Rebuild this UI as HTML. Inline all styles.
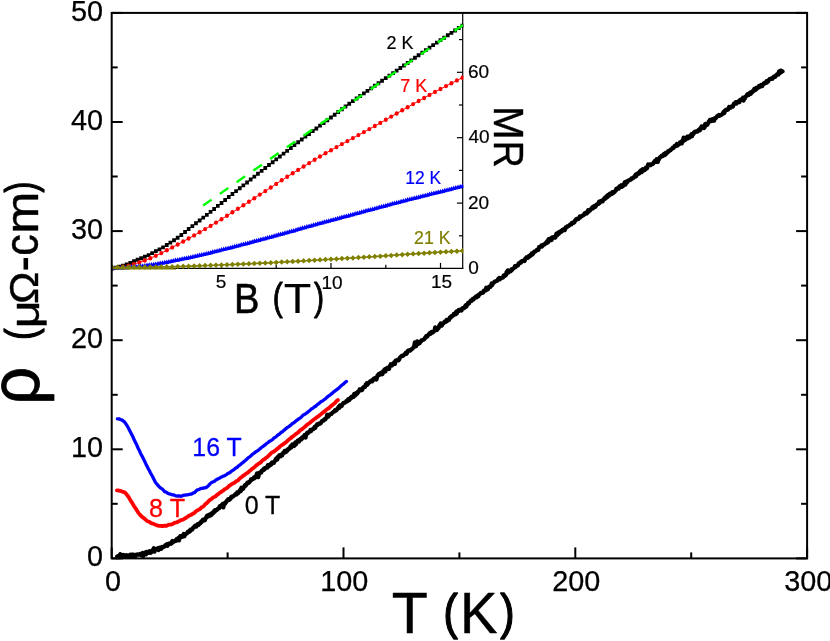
<!DOCTYPE html>
<html><head><meta charset="utf-8"><title>rho(T)</title>
<style>html,body{margin:0;padding:0;background:#fff;overflow:hidden}body{width:830px;height:641px;font-family:"Liberation Sans",sans-serif}svg{display:block;will-change:transform;transform:translateZ(0)}</style></head>
<body>
<svg width="830" height="641" viewBox="0 0 830 641">
<rect width="830" height="641" fill="#fff"/>
<g stroke="#000" stroke-width="1.2" fill="none">
<path d="M112 268.3H463.3"/>
<path d="M462.7 13V268.9"/>
<path d="M166.8 268.3v-3.5"/>
<path d="M221.5 268.3v-5.4"/>
<path d="M276.2 268.3v-3.5"/>
<path d="M331 268.3v-5.4"/>
<path d="M385.8 268.3v-3.5"/>
<path d="M440.5 268.3v-5.4"/>
<path d="M462.7 235.8h-3.7"/>
<path d="M462.7 203.1h-5.8"/>
<path d="M462.7 170.4h-3.7"/>
<path d="M462.7 137.7h-5.8"/>
<path d="M462.7 105h-3.7"/>
<path d="M462.7 72.3h-5.8"/>
<path d="M462.7 39.6h-3.7"/>
</g>
<clipPath id="ic"><rect x="111.6" y="12" width="351.8" height="260"/></clipPath>
<g clip-path="url(#ic)">
<g fill="none" stroke-linejoin="round">
<path d="M112 268.4L115.7 267.7L119.3 266.8L123 265.7L126.6 264.4L130.2 262.8L133.9 261.2L137.5 259.7L141.2 258.2L144.8 256.7L148.5 255.1L152.2 253.2L155.8 251.2L159.4 249.3L163.1 247.4L166.8 245.1L170.4 242.6L174 240.3L177.7 237.8L181.3 235L185 232L188.6 229L192.3 226.1L195.9 223.3L199.6 220.4L203.2 217.6L206.9 214.8L210.6 211.9L214.2 208.9L217.8 205.9L221.5 202.9L225.1 199.9L228.8 197L232.4 194L236.1 191.1L239.8 188.2L243.4 185.4L247 182.5L250.7 179.6L254.3 176.6L258 173.7L261.6 170.8L265.3 167.9L268.9 165.1L272.6 162.2L276.2 159.3L279.9 156.5L283.5 153.7L287.2 150.8L290.8 148L294.5 145.1L298.1 142.3L301.8 139.5L305.4 136.7L309.1 133.9L312.8 131.2L316.4 128.4L320 125.7L323.7 123L327.3 120.2L331 117.5L334.6 114.8L338.3 112L341.9 109.2L345.6 106.5L349.2 103.7L352.9 101.1L356.5 98.5L360.2 95.9L363.9 93.4L367.5 90.8L371.1 88.3L374.8 85.8L378.4 83.2L382.1 80.7L385.8 78.2L389.4 75.7L393 73.1L396.7 70.6L400.3 68.1L404 65.5L407.6 62.9L411.3 60.3L414.9 57.8L418.6 55.2L422.2 52.7L425.9 50.1L429.5 47.6L433.2 45.1L436.8 42.7L440.5 40.2L444.1 37.7L447.8 35.3L451.4 32.8L455.1 30.4L458.7 28L462.4 25.6" stroke="#000" stroke-width="1"/>
<path d="M112 268.4L117.5 267.6L123 266.7L128.4 265.6L133.9 264.1L139.4 262.4L144.8 260.5L150.3 258.2L155.8 255.8L161.3 253.1L166.8 250.3L172.2 247.4L177.7 244.5L183.2 241.5L188.6 238.5L194.1 235.4L199.6 232.3L205.1 229.1L210.6 225.9L216 222.6L221.5 219.2L227 215.8L232.4 212.3L237.9 208.8L243.4 205.3L248.9 201.8L254.3 198.2L259.8 194.6L265.3 191.1L270.8 187.5L276.2 183.9L281.7 180.3L287.2 176.8L292.7 173.3L298.1 169.9L303.6 166.5L309.1 163.1L314.6 159.8L320 156.5L325.5 153.3L331 150.2L336.5 147.1L341.9 144.1L347.4 141.1L352.9 138.1L358.4 135.1L363.9 132.1L369.3 129.1L374.8 126L380.3 122.9L385.8 119.8L391.2 116.6L396.7 113.5L402.2 110.3L407.6 107.2L413.1 104.1L418.6 101L424.1 98L429.5 94.9L435 91.9L440.5 89L446 86.1L451.4 83.2L456.9 80.4L462.4 77.7" stroke="#ff0000" stroke-width="1"/>
<path d="M112 268.4L114.2 268.3L116.4 268.2L118.6 268L120.8 267.9L123 267.7L125.1 267.6L127.3 267.4L129.5 267.2L131.7 267L133.9 266.8L136.1 266.6L138.3 266.4L140.5 266.1L142.7 265.9L144.8 265.6L147 265.3L149.2 265L151.4 264.8L153.6 264.4L155.8 264.1L158 263.7L160.2 263.3L162.4 262.9L164.6 262.5L166.8 262.1L168.9 261.7L171.1 261.2L173.3 260.8L175.5 260.3L177.7 259.9L179.9 259.5L182.1 259L184.3 258.5L186.5 258.1L188.6 257.6L190.8 257.1L193 256.7L195.2 256.2L197.4 255.7L199.6 255.2L201.8 254.7L204 254.1L206.2 253.6L208.4 253.1L210.6 252.6L212.7 252L214.9 251.5L217.1 250.9L219.3 250.4L221.5 249.8L223.7 249.3L225.9 248.7L228.1 248.2L230.3 247.6L232.4 247.1L234.6 246.5L236.8 245.9L239 245.4L241.2 244.8L243.4 244.2L245.6 243.7L247.8 243.1L250 242.5L252.2 241.9L254.3 241.3L256.5 240.7L258.7 240.1L260.9 239.5L263.1 238.9L265.3 238.4L267.5 237.8L269.7 237.2L271.9 236.6L274.1 236L276.2 235.4L278.4 234.8L280.6 234.2L282.8 233.6L285 233L287.2 232.4L289.4 231.8L291.6 231.2L293.8 230.6L296 229.9L298.1 229.3L300.3 228.7L302.5 228L304.7 227.4L306.9 226.8L309.1 226.2L311.3 225.6L313.5 225L315.7 224.4L317.9 223.8L320 223.2L322.2 222.6L324.4 222L326.6 221.4L328.8 220.9L331 220.3L333.2 219.7L335.4 219.1L337.6 218.5L339.8 217.9L341.9 217.3L344.1 216.7L346.3 216.1L348.5 215.6L350.7 215L352.9 214.4L355.1 213.8L357.3 213.2L359.5 212.6L361.7 212L363.9 211.4L366 210.8L368.2 210.2L370.4 209.7L372.6 209.1L374.8 208.5L377 207.9L379.2 207.3L381.4 206.7L383.6 206.1L385.8 205.6L387.9 205L390.1 204.4L392.3 203.8L394.5 203.3L396.7 202.7L398.9 202.1L401.1 201.5L403.3 201L405.5 200.4L407.6 199.8L409.8 199.3L412 198.7L414.2 198.2L416.4 197.6L418.6 197.1L420.8 196.5L423 196L425.2 195.4L427.4 194.9L429.5 194.3L431.7 193.8L433.9 193.2L436.1 192.7L438.3 192.2L440.5 191.6L442.7 191.1L444.9 190.5L447.1 190L449.3 189.4L451.4 188.9L453.6 188.3L455.8 187.8L458 187.2L460.2 186.7L462.4 186.2" stroke="#0000ff" stroke-width="1"/>
<path d="M112 267.1L117.5 267.1L123 267.1L128.4 267.1L133.9 267.1L139.4 267.1L144.8 267L150.3 267L155.8 267L161.3 266.9L166.8 266.8L172.2 266.7L177.7 266.5L183.2 266.4L188.6 266.2L194.1 266L199.6 265.8L205.1 265.6L210.6 265.4L216 265.1L221.5 264.9L227 264.7L232.4 264.5L237.9 264.2L243.4 264L248.9 263.8L254.3 263.5L259.8 263.2L265.3 263L270.8 262.7L276.2 262.4L281.7 262.1L287.2 261.8L292.7 261.5L298.1 261.2L303.6 260.9L309.1 260.5L314.6 260.2L320 259.9L325.5 259.6L331 259.2L336.5 258.9L341.9 258.6L347.4 258.3L352.9 257.9L358.4 257.6L363.9 257.2L369.3 256.9L374.8 256.5L380.3 256.2L385.8 255.8L391.2 255.4L396.7 255L402.2 254.6L407.6 254.3L413.1 253.9L418.6 253.5L424.1 253.2L429.5 252.8L435 252.5L440.5 252.1L446 251.8L451.4 251.5L456.9 251.2L462.4 250.8" stroke="#808000" stroke-width="1.4"/>
</g>
<path d="M110.2 266.4h3.7v3.9h-3.7zM113.8 265.7h3.7v3.9h-3.7zM117.5 264.8h3.7v3.9h-3.7zM121.1 263.8h3.7v3.9h-3.7zM124.8 262.4h3.7v3.9h-3.7zM128.4 260.9h3.7v3.9h-3.7zM132.1 259.3h3.7v3.9h-3.7zM135.7 257.8h3.7v3.9h-3.7zM139.3 256.3h3.7v3.9h-3.7zM143 254.8h3.7v3.9h-3.7zM146.7 253.2h3.7v3.9h-3.7zM150.3 251.2h3.7v3.9h-3.7zM154 249.2h3.7v3.9h-3.7zM157.6 247.4h3.7v3.9h-3.7zM161.2 245.4h3.7v3.9h-3.7zM164.9 243.1h3.7v3.9h-3.7zM168.5 240.7h3.7v3.9h-3.7zM172.2 238.3h3.7v3.9h-3.7zM175.8 235.8h3.7v3.9h-3.7zM179.5 233h3.7v3.9h-3.7zM183.2 230h3.7v3.9h-3.7zM186.8 227.1h3.7v3.9h-3.7zM190.5 224.2h3.7v3.9h-3.7zM194.1 221.3h3.7v3.9h-3.7zM197.8 218.5h3.7v3.9h-3.7zM201.4 215.7h3.7v3.9h-3.7zM205 212.9h3.7v3.9h-3.7zM208.7 209.9h3.7v3.9h-3.7zM212.3 207h3.7v3.9h-3.7zM216 203.9h3.7v3.9h-3.7zM219.7 201h3.7v3.9h-3.7zM223.3 198h3.7v3.9h-3.7zM226.9 195h3.7v3.9h-3.7zM230.6 192.1h3.7v3.9h-3.7zM234.2 189.2h3.7v3.9h-3.7zM237.9 186.3h3.7v3.9h-3.7zM241.5 183.4h3.7v3.9h-3.7zM245.2 180.5h3.7v3.9h-3.7zM248.8 177.6h3.7v3.9h-3.7zM252.5 174.7h3.7v3.9h-3.7zM256.1 171.8h3.7v3.9h-3.7zM259.8 168.9h3.7v3.9h-3.7zM263.4 166h3.7v3.9h-3.7zM267.1 163.1h3.7v3.9h-3.7zM270.8 160.3h3.7v3.9h-3.7zM274.4 157.4h3.7v3.9h-3.7zM278 154.6h3.7v3.9h-3.7zM281.7 151.7h3.7v3.9h-3.7zM285.3 148.9h3.7v3.9h-3.7zM289 146h3.7v3.9h-3.7zM292.6 143.2h3.7v3.9h-3.7zM296.3 140.3h3.7v3.9h-3.7zM299.9 137.5h3.7v3.9h-3.7zM303.6 134.7h3.7v3.9h-3.7zM307.2 132h3.7v3.9h-3.7zM310.9 129.2h3.7v3.9h-3.7zM314.5 126.5h3.7v3.9h-3.7zM318.2 123.7h3.7v3.9h-3.7zM321.8 121h3.7v3.9h-3.7zM325.5 118.3h3.7v3.9h-3.7zM329.1 115.6h3.7v3.9h-3.7zM332.8 112.8h3.7v3.9h-3.7zM336.4 110.1h3.7v3.9h-3.7zM340.1 107.3h3.7v3.9h-3.7zM343.7 104.5h3.7v3.9h-3.7zM347.4 101.8h3.7v3.9h-3.7zM351 99.2h3.7v3.9h-3.7zM354.7 96.5h3.7v3.9h-3.7zM358.3 94h3.7v3.9h-3.7zM362 91.4h3.7v3.9h-3.7zM365.6 88.9h3.7v3.9h-3.7zM369.3 86.4h3.7v3.9h-3.7zM372.9 83.8h3.7v3.9h-3.7zM376.6 81.3h3.7v3.9h-3.7zM380.2 78.8h3.7v3.9h-3.7zM383.9 76.2h3.7v3.9h-3.7zM387.5 73.7h3.7v3.9h-3.7zM391.2 71.2h3.7v3.9h-3.7zM394.8 68.7h3.7v3.9h-3.7zM398.5 66.1h3.7v3.9h-3.7zM402.1 63.6h3.7v3.9h-3.7zM405.8 61h3.7v3.9h-3.7zM409.4 58.4h3.7v3.9h-3.7zM413.1 55.8h3.7v3.9h-3.7zM416.7 53.3h3.7v3.9h-3.7zM420.4 50.7h3.7v3.9h-3.7zM424 48.2h3.7v3.9h-3.7zM427.7 45.7h3.7v3.9h-3.7zM431.3 43.2h3.7v3.9h-3.7zM435 40.7h3.7v3.9h-3.7zM438.6 38.2h3.7v3.9h-3.7zM442.3 35.8h3.7v3.9h-3.7zM445.9 33.3h3.7v3.9h-3.7zM449.6 30.9h3.7v3.9h-3.7zM453.2 28.5h3.7v3.9h-3.7zM456.9 26.1h3.7v3.9h-3.7zM460.5 23.7h3.7v3.9h-3.7z" fill="#000"/>
<g fill="#ff0000"><ellipse cx="112" cy="268.4" rx="2" ry="2.2"/><ellipse cx="117.5" cy="267.6" rx="2" ry="2.2"/><ellipse cx="123" cy="266.7" rx="2" ry="2.2"/><ellipse cx="128.4" cy="265.6" rx="2" ry="2.2"/><ellipse cx="133.9" cy="264.1" rx="2" ry="2.2"/><ellipse cx="139.4" cy="262.4" rx="2" ry="2.2"/><ellipse cx="144.8" cy="260.5" rx="2" ry="2.2"/><ellipse cx="150.3" cy="258.2" rx="2" ry="2.2"/><ellipse cx="155.8" cy="255.8" rx="2" ry="2.2"/><ellipse cx="161.3" cy="253.1" rx="2" ry="2.2"/><ellipse cx="166.8" cy="250.3" rx="2" ry="2.2"/><ellipse cx="172.2" cy="247.4" rx="2" ry="2.2"/><ellipse cx="177.7" cy="244.5" rx="2" ry="2.2"/><ellipse cx="183.2" cy="241.5" rx="2" ry="2.2"/><ellipse cx="188.6" cy="238.5" rx="2" ry="2.2"/><ellipse cx="194.1" cy="235.4" rx="2" ry="2.2"/><ellipse cx="199.6" cy="232.3" rx="2" ry="2.2"/><ellipse cx="205.1" cy="229.1" rx="2" ry="2.2"/><ellipse cx="210.6" cy="225.9" rx="2" ry="2.2"/><ellipse cx="216" cy="222.6" rx="2" ry="2.2"/><ellipse cx="221.5" cy="219.2" rx="2" ry="2.2"/><ellipse cx="227" cy="215.8" rx="2" ry="2.2"/><ellipse cx="232.4" cy="212.3" rx="2" ry="2.2"/><ellipse cx="237.9" cy="208.8" rx="2" ry="2.2"/><ellipse cx="243.4" cy="205.3" rx="2" ry="2.2"/><ellipse cx="248.9" cy="201.8" rx="2" ry="2.2"/><ellipse cx="254.3" cy="198.2" rx="2" ry="2.2"/><ellipse cx="259.8" cy="194.6" rx="2" ry="2.2"/><ellipse cx="265.3" cy="191.1" rx="2" ry="2.2"/><ellipse cx="270.8" cy="187.5" rx="2" ry="2.2"/><ellipse cx="276.2" cy="183.9" rx="2" ry="2.2"/><ellipse cx="281.7" cy="180.3" rx="2" ry="2.2"/><ellipse cx="287.2" cy="176.8" rx="2" ry="2.2"/><ellipse cx="292.7" cy="173.3" rx="2" ry="2.2"/><ellipse cx="298.1" cy="169.9" rx="2" ry="2.2"/><ellipse cx="303.6" cy="166.5" rx="2" ry="2.2"/><ellipse cx="309.1" cy="163.1" rx="2" ry="2.2"/><ellipse cx="314.6" cy="159.8" rx="2" ry="2.2"/><ellipse cx="320" cy="156.5" rx="2" ry="2.2"/><ellipse cx="325.5" cy="153.3" rx="2" ry="2.2"/><ellipse cx="331" cy="150.2" rx="2" ry="2.2"/><ellipse cx="336.5" cy="147.1" rx="2" ry="2.2"/><ellipse cx="341.9" cy="144.1" rx="2" ry="2.2"/><ellipse cx="347.4" cy="141.1" rx="2" ry="2.2"/><ellipse cx="352.9" cy="138.1" rx="2" ry="2.2"/><ellipse cx="358.4" cy="135.1" rx="2" ry="2.2"/><ellipse cx="363.9" cy="132.1" rx="2" ry="2.2"/><ellipse cx="369.3" cy="129.1" rx="2" ry="2.2"/><ellipse cx="374.8" cy="126" rx="2" ry="2.2"/><ellipse cx="380.3" cy="122.9" rx="2" ry="2.2"/><ellipse cx="385.8" cy="119.8" rx="2" ry="2.2"/><ellipse cx="391.2" cy="116.6" rx="2" ry="2.2"/><ellipse cx="396.7" cy="113.5" rx="2" ry="2.2"/><ellipse cx="402.2" cy="110.3" rx="2" ry="2.2"/><ellipse cx="407.6" cy="107.2" rx="2" ry="2.2"/><ellipse cx="413.1" cy="104.1" rx="2" ry="2.2"/><ellipse cx="418.6" cy="101" rx="2" ry="2.2"/><ellipse cx="424.1" cy="98" rx="2" ry="2.2"/><ellipse cx="429.5" cy="94.9" rx="2" ry="2.2"/><ellipse cx="435" cy="91.9" rx="2" ry="2.2"/><ellipse cx="440.5" cy="89" rx="2" ry="2.2"/><ellipse cx="446" cy="86.1" rx="2" ry="2.2"/><ellipse cx="451.4" cy="83.2" rx="2" ry="2.2"/><ellipse cx="456.9" cy="80.4" rx="2" ry="2.2"/><ellipse cx="462.4" cy="77.7" rx="2" ry="2.2"/></g>
<path d="M112 265.7L114.5 270.2L109.5 270.2zM114.2 265.6L116.7 270.1L111.7 270.1zM116.4 265.5L118.9 270L113.9 270zM118.6 265.3L121.1 269.8L116.1 269.8zM120.8 265.2L123.3 269.7L118.3 269.7zM123 265L125.5 269.5L120.5 269.5zM125.1 264.9L127.6 269.4L122.6 269.4zM127.3 264.7L129.8 269.2L124.8 269.2zM129.5 264.5L132 269L127 269zM131.7 264.3L134.2 268.8L129.2 268.8zM133.9 264.1L136.4 268.6L131.4 268.6zM136.1 263.9L138.6 268.4L133.6 268.4zM138.3 263.7L140.8 268.2L135.8 268.2zM140.5 263.4L143 267.9L138 267.9zM142.7 263.2L145.2 267.7L140.2 267.7zM144.8 262.9L147.3 267.4L142.3 267.4zM147 262.6L149.5 267.1L144.5 267.1zM149.2 262.3L151.7 266.8L146.7 266.8zM151.4 262.1L153.9 266.6L148.9 266.6zM153.6 261.7L156.1 266.2L151.1 266.2zM155.8 261.4L158.3 265.9L153.3 265.9zM158 261L160.5 265.5L155.5 265.5zM160.2 260.6L162.7 265.1L157.7 265.1zM162.4 260.2L164.9 264.7L159.9 264.7zM164.6 259.8L167.1 264.3L162.1 264.3zM166.8 259.4L169.2 263.9L164.2 263.9zM168.9 259L171.4 263.5L166.4 263.5zM171.1 258.5L173.6 263L168.6 263zM173.3 258.1L175.8 262.6L170.8 262.6zM175.5 257.6L178 262.1L173 262.1zM177.7 257.2L180.2 261.7L175.2 261.7zM179.9 256.8L182.4 261.3L177.4 261.3zM182.1 256.3L184.6 260.8L179.6 260.8zM184.3 255.8L186.8 260.3L181.8 260.3zM186.5 255.4L189 259.9L184 259.9zM188.6 254.9L191.1 259.4L186.1 259.4zM190.8 254.4L193.3 258.9L188.3 258.9zM193 254L195.5 258.5L190.5 258.5zM195.2 253.5L197.7 258L192.7 258zM197.4 253L199.9 257.5L194.9 257.5zM199.6 252.5L202.1 257L197.1 257zM201.8 252L204.3 256.5L199.3 256.5zM204 251.4L206.5 255.9L201.5 255.9zM206.2 250.9L208.7 255.4L203.7 255.4zM208.4 250.4L210.9 254.9L205.9 254.9zM210.6 249.9L213.1 254.4L208.1 254.4zM212.7 249.3L215.2 253.8L210.2 253.8zM214.9 248.8L217.4 253.3L212.4 253.3zM217.1 248.2L219.6 252.7L214.6 252.7zM219.3 247.7L221.8 252.2L216.8 252.2zM221.5 247.1L224 251.6L219 251.6zM223.7 246.6L226.2 251.1L221.2 251.1zM225.9 246L228.4 250.5L223.4 250.5zM228.1 245.5L230.6 250L225.6 250zM230.3 244.9L232.8 249.4L227.8 249.4zM232.4 244.4L234.9 248.9L229.9 248.9zM234.6 243.8L237.1 248.3L232.1 248.3zM236.8 243.2L239.3 247.7L234.3 247.7zM239 242.7L241.5 247.2L236.5 247.2zM241.2 242.1L243.7 246.6L238.7 246.6zM243.4 241.5L245.9 246L240.9 246zM245.6 241L248.1 245.5L243.1 245.5zM247.8 240.4L250.3 244.9L245.3 244.9zM250 239.8L252.5 244.3L247.5 244.3zM252.2 239.2L254.7 243.7L249.7 243.7zM254.3 238.6L256.9 243.1L251.8 243.1zM256.5 238L259 242.5L254 242.5zM258.7 237.4L261.2 241.9L256.2 241.9zM260.9 236.8L263.4 241.3L258.4 241.3zM263.1 236.2L265.6 240.7L260.6 240.7zM265.3 235.7L267.8 240.2L262.8 240.2zM267.5 235.1L270 239.6L265 239.6zM269.7 234.5L272.2 239L267.2 239zM271.9 233.9L274.4 238.4L269.4 238.4zM274.1 233.3L276.6 237.8L271.6 237.8zM276.2 232.7L278.8 237.2L273.8 237.2zM278.4 232.1L280.9 236.6L275.9 236.6zM280.6 231.5L283.1 236L278.1 236zM282.8 230.9L285.3 235.4L280.3 235.4zM285 230.3L287.5 234.8L282.5 234.8zM287.2 229.7L289.7 234.2L284.7 234.2zM289.4 229.1L291.9 233.6L286.9 233.6zM291.6 228.5L294.1 233L289.1 233zM293.8 227.9L296.3 232.4L291.3 232.4zM296 227.2L298.5 231.7L293.5 231.7zM298.1 226.6L300.6 231.1L295.6 231.1zM300.3 226L302.8 230.5L297.8 230.5zM302.5 225.3L305 229.8L300 229.8zM304.7 224.7L307.2 229.2L302.2 229.2zM306.9 224.1L309.4 228.6L304.4 228.6zM309.1 223.5L311.6 228L306.6 228zM311.3 222.9L313.8 227.4L308.8 227.4zM313.5 222.3L316 226.8L311 226.8zM315.7 221.7L318.2 226.2L313.2 226.2zM317.9 221.1L320.4 225.6L315.4 225.6zM320 220.5L322.5 225L317.5 225zM322.2 219.9L324.7 224.4L319.7 224.4zM324.4 219.3L326.9 223.8L321.9 223.8zM326.6 218.7L329.1 223.2L324.1 223.2zM328.8 218.2L331.3 222.7L326.3 222.7zM331 217.6L333.5 222.1L328.5 222.1zM333.2 217L335.7 221.5L330.7 221.5zM335.4 216.4L337.9 220.9L332.9 220.9zM337.6 215.8L340.1 220.3L335.1 220.3zM339.8 215.2L342.3 219.7L337.3 219.7zM341.9 214.6L344.4 219.1L339.4 219.1zM344.1 214L346.6 218.5L341.6 218.5zM346.3 213.4L348.8 217.9L343.8 217.9zM348.5 212.9L351 217.4L346 217.4zM350.7 212.3L353.2 216.8L348.2 216.8zM352.9 211.7L355.4 216.2L350.4 216.2zM355.1 211.1L357.6 215.6L352.6 215.6zM357.3 210.5L359.8 215L354.8 215zM359.5 209.9L362 214.4L357 214.4zM361.7 209.3L364.2 213.8L359.2 213.8zM363.9 208.7L366.4 213.2L361.4 213.2zM366 208.1L368.5 212.6L363.5 212.6zM368.2 207.5L370.7 212L365.7 212zM370.4 207L372.9 211.5L367.9 211.5zM372.6 206.4L375.1 210.9L370.1 210.9zM374.8 205.8L377.3 210.3L372.3 210.3zM377 205.2L379.5 209.7L374.5 209.7zM379.2 204.6L381.7 209.1L376.7 209.1zM381.4 204L383.9 208.5L378.9 208.5zM383.6 203.4L386.1 207.9L381.1 207.9zM385.8 202.9L388.2 207.4L383.2 207.4zM387.9 202.3L390.4 206.8L385.4 206.8zM390.1 201.7L392.6 206.2L387.6 206.2zM392.3 201.1L394.8 205.6L389.8 205.6zM394.5 200.6L397 205.1L392 205.1zM396.7 200L399.2 204.5L394.2 204.5zM398.9 199.4L401.4 203.9L396.4 203.9zM401.1 198.8L403.6 203.3L398.6 203.3zM403.3 198.3L405.8 202.8L400.8 202.8zM405.5 197.7L408 202.2L403 202.2zM407.6 197.1L410.1 201.6L405.1 201.6zM409.8 196.6L412.3 201.1L407.3 201.1zM412 196L414.5 200.5L409.5 200.5zM414.2 195.5L416.7 200L411.7 200zM416.4 194.9L418.9 199.4L413.9 199.4zM418.6 194.4L421.1 198.9L416.1 198.9zM420.8 193.8L423.3 198.3L418.3 198.3zM423 193.3L425.5 197.8L420.5 197.8zM425.2 192.7L427.7 197.2L422.7 197.2zM427.4 192.2L429.9 196.7L424.9 196.7zM429.5 191.6L432 196.1L427 196.1zM431.7 191.1L434.2 195.6L429.2 195.6zM433.9 190.5L436.4 195L431.4 195zM436.1 190L438.6 194.5L433.6 194.5zM438.3 189.5L440.8 194L435.8 194zM440.5 188.9L443 193.4L438 193.4zM442.7 188.4L445.2 192.9L440.2 192.9zM444.9 187.8L447.4 192.3L442.4 192.3zM447.1 187.3L449.6 191.8L444.6 191.8zM449.3 186.7L451.8 191.2L446.8 191.2zM451.4 186.2L453.9 190.7L448.9 190.7zM453.6 185.6L456.1 190.1L451.1 190.1zM455.8 185.1L458.3 189.6L453.3 189.6zM458 184.5L460.5 189L455.5 189zM460.2 184L462.7 188.5L457.7 188.5zM462.4 183.5L464.9 188L459.9 188z" fill="#0000ff"/>
<path d="M112.6 266.9H150L176 268.6V269.5H112.6z" fill="#808000"/>
<path d="M112 264.4L114.8 267.1L112 269.9L109.2 267.1zM117.5 264.4L120.3 267.1L117.5 269.9L114.7 267.1zM123 264.4L125.8 267.1L123 269.9L120.2 267.1zM128.4 264.3L131.2 267.1L128.4 269.8L125.6 267.1zM133.9 264.3L136.7 267.1L133.9 269.8L131.1 267.1zM139.4 264.3L142.2 267.1L139.4 269.8L136.6 267.1zM144.8 264.3L147.7 267L144.8 269.8L142 267zM150.3 264.3L153.1 267L150.3 269.8L147.5 267zM155.8 264.2L158.6 267L155.8 269.7L153 267zM161.3 264.1L164.1 266.9L161.3 269.6L158.5 266.9zM166.8 264L169.6 266.8L166.8 269.5L163.9 266.8zM172.2 263.9L175 266.7L172.2 269.4L169.4 266.7zM177.7 263.8L180.5 266.5L177.7 269.3L174.9 266.5zM183.2 263.6L186 266.4L183.2 269.1L180.4 266.4zM188.6 263.5L191.4 266.2L188.6 269L185.8 266.2zM194.1 263.3L196.9 266L194.1 268.8L191.3 266zM199.6 263.1L202.4 265.8L199.6 268.6L196.8 265.8zM205.1 262.8L207.9 265.6L205.1 268.3L202.3 265.6zM210.6 262.6L213.4 265.4L210.6 268.1L207.8 265.4zM216 262.4L218.8 265.1L216 267.9L213.2 265.1zM221.5 262.2L224.3 264.9L221.5 267.7L218.7 264.9zM227 261.9L229.8 264.7L227 267.4L224.2 264.7zM232.4 261.7L235.2 264.5L232.4 267.2L229.6 264.5zM237.9 261.5L240.7 264.2L237.9 267L235.1 264.2zM243.4 261.2L246.2 264L243.4 266.7L240.6 264zM248.9 261L251.7 263.8L248.9 266.5L246.1 263.8zM254.3 260.8L257.1 263.5L254.3 266.3L251.5 263.5zM259.8 260.5L262.6 263.2L259.8 266L257 263.2zM265.3 260.2L268.1 263L265.3 265.7L262.5 263zM270.8 259.9L273.6 262.7L270.8 265.4L268 262.7zM276.2 259.7L279.1 262.4L276.2 265.2L273.4 262.4zM281.7 259.3L284.5 262.1L281.7 264.8L278.9 262.1zM287.2 259L290 261.8L287.2 264.5L284.4 261.8zM292.7 258.7L295.5 261.5L292.7 264.2L289.9 261.5zM298.1 258.4L300.9 261.2L298.1 263.9L295.3 261.2zM303.6 258.1L306.4 260.9L303.6 263.6L300.8 260.9zM309.1 257.8L311.9 260.5L309.1 263.3L306.3 260.5zM314.6 257.5L317.4 260.2L314.6 263L311.8 260.2zM320 257.1L322.8 259.9L320 262.6L317.2 259.9zM325.5 256.8L328.3 259.6L325.5 262.3L322.7 259.6zM331 256.5L333.8 259.2L331 262L328.2 259.2zM336.5 256.2L339.3 258.9L336.5 261.7L333.7 258.9zM341.9 255.8L344.8 258.6L341.9 261.3L339.1 258.6zM347.4 255.5L350.2 258.3L347.4 261L344.6 258.3zM352.9 255.2L355.7 257.9L352.9 260.7L350.1 257.9zM358.4 254.8L361.2 257.6L358.4 260.3L355.6 257.6zM363.9 254.5L366.7 257.2L363.9 260L361.1 257.2zM369.3 254.1L372.1 256.9L369.3 259.6L366.5 256.9zM374.8 253.8L377.6 256.5L374.8 259.3L372 256.5zM380.3 253.4L383.1 256.2L380.3 258.9L377.5 256.2zM385.8 253L388.6 255.8L385.8 258.5L382.9 255.8zM391.2 252.7L394 255.4L391.2 258.2L388.4 255.4zM396.7 252.3L399.5 255L396.7 257.8L393.9 255zM402.2 251.9L405 254.6L402.2 257.4L399.4 254.6zM407.6 251.5L410.4 254.3L407.6 257L404.8 254.3zM413.1 251.1L415.9 253.9L413.1 256.6L410.3 253.9zM418.6 250.8L421.4 253.5L418.6 256.3L415.8 253.5zM424.1 250.4L426.9 253.2L424.1 255.9L421.3 253.2zM429.5 250.1L432.3 252.8L429.5 255.6L426.7 252.8zM435 249.7L437.8 252.5L435 255.2L432.2 252.5zM440.5 249.4L443.3 252.1L440.5 254.9L437.7 252.1zM446 249.1L448.8 251.8L446 254.6L443.2 251.8zM451.4 248.7L454.2 251.5L451.4 254.2L448.6 251.5zM456.9 248.4L459.7 251.2L456.9 253.9L454.1 251.2zM462.4 248.1L465.2 250.8L462.4 253.6L459.6 250.8z" fill="#808000"/>
<path d="M203.1 205.5L463.9 24.4" stroke="#00ff00" stroke-width="2.4" stroke-dasharray="10.3 10.1" fill="none"/>
</g>
<clipPath id="fc"><rect x="111.7" y="12.9" width="695.4" height="546.3"/></clipPath>
<g fill="none" stroke-linejoin="round" stroke-linecap="round" clip-path="url(#fc)">
<path d="M117.4 418.8L118.4 418.9L119.4 419L120.4 419.5L121.4 419.8L122.4 420.3L123.4 421.2L124.4 421.9L125.4 423.1L126.4 424.7L127.4 426.2L128.4 428L129.4 430.1L130.4 432L131.4 433.9L132.4 435.8L133.4 438L134.4 440.3L135.4 442.3L136.4 444.2L137.4 446.5L138.4 448.8L139.4 450.7L140.4 453L141.4 455.1L142.4 456.7L143.4 458.7L144.4 460.7L145.4 462.9L146.4 465.2L147.4 466.9L148.4 469L149.4 470.8L150.4 472.7L151.4 474.5L152.4 476.3L153.4 478.3L154.4 480.3L155.4 482.3L156.4 483.5L157.4 484.7L158.4 485.8L159.4 486.9L160.4 487.8L161.4 488.5L162.4 489.2L163.4 490.2L164.4 491.4L165.4 492L166.4 492.2L167.4 493L168.4 493.6L169.4 493.8L170.4 494.2L171.4 494.5L172.4 494.8L173.4 494.9L174.4 495.3L175.4 495.7L176.4 496L177.4 496.2L178.4 495.9L179.4 495.9L180.4 496.3L181.4 496.2L182.4 495.7L183.4 495.4L184.4 495.2L185.4 495.1L186.4 494.8L187.4 494.8L188.4 494.7L189.4 494.3L190.4 494.2L191.4 494.1L192.4 493.5L193.4 492.9L194.4 492.6L195.4 491.8L196.4 490.6L197.4 489.9L198.4 489.6L199.4 489.2L200.4 488.7L201.4 488.4L202.4 488.3L203.4 488L204.4 487.9L205.4 487.8L206.4 487.3L207.4 486.6L208.4 485.7L209.4 484.4L210.4 483.5L211.4 482.7L212.4 482L213.4 481.8L214.4 481.3L215.4 480.4L216.4 479.7L217.4 479.1L218.4 478.7L219.4 478.3L220.4 477.5L221.4 477L222.4 476.6L223.4 476.1L224.4 475.7L225.4 475.2L226.4 474.6L227.4 473.8L228.4 473.3L229.4 472.9L230.4 472.2L231.4 471.3L232.4 470.5L233.4 470L234.4 469.2L235.4 468.3L236.4 467.8L237.4 467.1L238.4 465.9L239.4 465.3L240.4 464.6L241.4 463.6L242.4 462.9L243.4 462.1L244.4 461.2L245.4 460.5L246.4 459.6L247.4 458.6L248.4 457.7L249.4 457L250.4 456.2L251.4 455.4L252.4 454.4L253.4 453.7L254.4 453L255.4 452L256.4 451.5L257.4 450.8L258.4 450.1L259.4 449.3L260.4 448.4L261.4 447.5L262.4 446.8L263.4 446.2L264.4 445.4L265.4 444.6L266.4 443.7L267.4 443L268.4 442.2L269.4 441.4L270.4 441L271.4 440.3L272.4 439.7L273.4 438.6L274.4 437.7L275.4 437.2L276.4 436.5L277.4 435.4L278.4 434.6L279.4 434.2L280.4 433.1L281.4 432.2L282.4 431.7L283.4 430.8L284.4 429.9L285.4 429.1L286.4 428.2L287.4 427.4L288.4 426.8L289.4 426.1L290.4 425.4L291.4 424.5L292.4 423.6L293.4 423.1L294.4 422.4L295.4 421.4L296.4 420.6L297.4 419.9L298.4 419.1L299.4 418.5L300.4 417.8L301.4 417L302.4 415.9L303.4 414.9L304.4 414.5L305.4 413.9L306.4 413.2L307.4 412.5L308.4 411.5L309.4 410.8L310.4 410L311.4 408.9L312.4 408.5L313.4 407.7L314.4 406.8L315.4 406.4L316.4 405.6L317.4 404.5L318.4 403.9L319.4 403.1L320.4 402.1L321.4 401.5L322.4 401L323.4 400.3L324.4 399.5L325.4 398.7L326.4 397.8L327.4 396.9L328.4 396.1L329.4 395.5L330.4 394.7L331.4 393.9L332.4 393.1L333.4 392.1L334.4 391.4L335.4 390.6L336.4 389.9L337.4 389.1L338.4 388.4L339.4 387.5L340.4 386.4L341.4 385.5L342.4 384.7L343.4 384.1L344.4 383.1L345.4 382.2L346.4 381.5" stroke="#0000ff" stroke-width="3.3"/>
<path d="M116.9 490.3L117.9 490.3L118.9 490.6L119.9 490.9L120.9 491L121.9 491.4L122.9 491.9L123.9 492.1L124.9 492.5L125.9 493.6L126.9 494.9L127.9 496L128.9 497.6L129.9 499.3L130.9 500.9L131.9 502.5L132.9 504.2L133.9 506L134.9 507.4L135.9 508.8L136.9 510.4L137.9 512L138.9 513.4L139.9 514.6L140.9 515.7L141.9 516.7L142.9 517.5L143.9 518.1L144.9 519L145.9 519.9L146.9 520.8L147.9 521.4L148.9 521.6L149.9 522.1L150.9 523L151.9 523.4L152.9 523.6L153.9 524.1L154.9 524.5L155.9 524.9L156.9 525.3L157.9 525.7L158.9 525.9L159.9 525.8L160.9 525.8L161.9 526.1L162.9 526L163.9 525.9L164.9 525.7L165.9 525.8L166.9 525.8L167.9 525.1L168.9 524.7L169.9 524.6L170.9 524.6L171.9 524.3L172.9 523.8L173.9 523.3L174.9 522.7L175.9 522.5L176.9 522.3L177.9 521.7L178.9 521.3L179.9 520.8L180.9 520.1L181.9 519.9L182.9 519.7L183.9 519L184.9 518.5L185.9 517.9L186.9 517.1L187.9 516.6L188.9 515.8L189.9 515.3L190.9 515L191.9 514.4L192.9 513.6L193.9 513.2L194.9 512.4L195.9 511.3L196.9 510.7L197.9 510.1L198.9 509.6L199.9 509.1L200.9 508L201.9 507.1L202.9 506.8L203.9 505.9L204.9 504.5L205.9 503.7L206.9 502.9L207.9 502L208.9 500.9L209.9 499.9L210.9 499.3L211.9 498.7L212.9 497.7L213.9 497.1L214.9 496.7L215.9 495.9L216.9 495L217.9 494.4L218.9 493.6L219.9 492.7L220.9 492.1L221.9 491.4L222.9 490.7L223.9 489.9L224.9 489.1L225.9 488.6L226.9 488.1L227.9 487.2L228.9 486.1L229.9 485.4L230.9 484.7L231.9 484L232.9 483.5L233.9 483L234.9 482.4L235.9 481.5L236.9 480.9L237.9 480.5L238.9 479.4L239.9 478.2L240.9 477.4L241.9 477L242.9 475.9L243.9 475.2L244.9 474.7L245.9 473.8L246.9 473.1L247.9 472.6L248.9 471.6L249.9 470.7L250.9 469.9L251.9 469L252.9 468.3L253.9 467.7L254.9 466.8L255.9 465.6L256.9 465L257.9 464.3L258.9 463.4L259.9 463L260.9 462.2L261.9 461L262.9 460L263.9 459.5L264.9 458.9L265.9 458L266.9 457.3L267.9 456.4L268.9 455.4L269.9 454.5L270.9 453.4L271.9 452.5L272.9 452.1L273.9 451.5L274.9 450.7L275.9 449.9L276.9 449.1L277.9 448.4L278.9 447.5L279.9 446.6L280.9 445.7L281.9 445L282.9 444.5L283.9 443.6L284.9 443L285.9 442.3L286.9 441.3L287.9 440.5L288.9 439.5L289.9 438.7L290.9 438.1L291.9 437L292.9 436.4L293.9 435.7L294.9 434.8L295.9 434L296.9 433.3L297.9 432.7L298.9 431.7L299.9 430.5L300.9 429.8L301.9 429.3L302.9 428.5L303.9 427.5L304.9 426.8L305.9 425.8L306.9 424.8L307.9 424.2L308.9 423.5L309.9 422.8L310.9 421.8L311.9 421.1L312.9 420.3L313.9 419.5L314.9 418.8L315.9 418L316.9 417.2L317.9 416.6L318.9 415.9L319.9 415L320.9 414.3L321.9 413.4L322.9 412.6L323.9 411.9L324.9 411.1L325.9 410.2L326.9 409.3L327.9 408.7L328.9 408.2L329.9 407.2L330.9 406.1L331.9 405.4L332.9 404.6L333.9 403.8L334.9 403L335.9 401.8L336.9 400.7L337.9 400.1" stroke="#ff0000" stroke-width="3.8"/>
<path d="M117.2 556.4L117.8 557.9L118.4 555.8L119 556.6L119.6 557.4L120.2 554L120.8 555.7L121.4 556.1L122 555.9L122.6 555.6L123.2 554.9L123.8 555.2L124.4 556.3L125 556.5L125.6 555.8L126.2 555.2L126.8 555.8L127.4 555.5L128 556.1L128.6 555.8L129.2 555.2L129.8 555.7L130.4 554.7L131 556.1L131.6 556.3L132.2 554.6L132.8 555.7L133.4 554.6L134 556L134.6 555.8L135.2 555L135.8 555.8L136.4 554.7L137 554.5L137.6 554.4L138.2 554.7L138.8 554.5L139.4 554.7L140 554.1L140.6 554.9L141.2 555L141.8 553.8L142.4 553.1L143 556.3L143.6 554.6L144.2 553.6L144.8 552.6L145.4 553.6L146 554.3L146.6 551.8L147.2 553.2L147.8 552.5L148.4 552L149 552.7L149.6 551.3L150.2 552.2L150.8 552.8L151.4 551.8L152 550.8L152.6 550L153.2 550.1L153.8 548.2L154.4 551.7L155 550.1L155.6 549.3L156.2 548.9L156.8 548.8L157.4 549.1L158 548.1L158.6 550L159.2 548L159.8 547.7L160.4 548.2L161 548.8L161.6 548.5L162.2 546.9L162.8 547.2L163.4 546.9L164 546.9L164.6 546.4L165.2 545.3L165.8 544.8L166.4 545.6L167 544.3L167.6 545.8L168.2 544.6L168.8 543.6L169.4 543.8L170 543.3L170.6 543.3L171.2 543.7L171.8 541.7L172.4 541.1L173 542.3L173.6 541.6L174.2 541.4L174.8 541.3L175.4 540.5L176 540.8L176.6 539.2L177.2 539.5L177.8 538.5L178.4 537.9L179 540.4L179.6 538.3L180.2 536.1L180.8 536.3L181.4 536.9L182 537L182.6 535.4L183.2 535.3L183.8 534L184.4 536.3L185 534.4L185.6 534.3L186.2 533.7L186.8 533.4L187.4 532.8L188 531.6L188.6 532L189.2 531L189.8 531.5L190.4 529.6L191 529.3L191.6 529.7L192.2 529.7L192.8 528.4L193.4 527.4L194 527.3L194.6 526.6L195.2 525.6L195.8 526.7L196.4 526.5L197 525.3L197.6 524.3L198.2 525L198.8 524.9L199.4 523.7L200 522.8L200.6 523.1L201.2 521.6L201.8 521.9L202.4 520.4L203 519.7L203.6 520.3L204.2 519.7L204.8 520.3L205.4 518.3L206 518L206.6 516.7L207.2 515.7L207.8 516.7L208.4 516.4L209 514.8L209.6 515.9L210.2 515.6L210.8 514L211.4 514.9L212 513.4L212.6 513.6L213.2 512.1L213.8 512.5L214.4 510.7L215 511.4L215.6 510.1L216.2 509.9L216.8 510L217.4 509.2L218 508.5L218.6 508.6L219.2 508.2L219.8 506.2L220.4 507.1L221 506.7L221.6 505.2L222.2 505.5L222.8 503.8L223.4 507.4L224 503.5L224.6 503.2L225.2 503.5L225.8 502.1L226.4 502.1L227 500.5L227.6 500.3L228.2 499.2L228.8 499.5L229.4 499.9L230 498.9L230.6 498.8L231.2 497L231.8 496.6L232.4 496.4L233 496.7L233.6 496L234.2 495.3L234.8 495.2L235.4 494.2L236 493.8L236.6 494.3L237.2 492.4L237.8 492.5L238.4 493L239 491.4L239.6 491.3L240.2 489.9L240.8 491.2L241.4 487.7L242 487.9L242.6 487.4L243.2 488.8L243.8 487.3L244.4 486.3L245 485.1L245.6 485.7L246.2 484.9L246.8 483.8L247.4 482.7L248 482.4L248.6 482.8L249.2 482.3L249.8 481.6L250.4 480.9L251 479.3L251.6 480L252.2 478.8L252.8 479L253.4 478.8L254 477.5L254.6 478.2L255.2 477.6L255.8 476.7L256.4 475.5L257 473.3L257.6 474.9L258.2 477.2L258.8 474.7L259.4 472.9L260 472.4L260.6 472.1L261.2 472.5L261.8 470.6L262.4 470.8L263 469.7L263.6 470.1L264.2 468.3L264.8 469.1L265.4 468L266 467.7L266.6 467.7L267.2 467.7L267.8 465.2L268.4 466.6L269 465.7L269.6 464.7L270.2 465.3L270.8 464L271.4 464.3L272 462.4L272.6 463L273.2 462.7L273.8 462.9L274.4 461.3L275 461L275.6 459.5L276.2 458.4L276.8 458.7L277.4 459.4L278 456.6L278.6 457L279.2 455.5L279.8 456.4L280.4 456.5L281 454.5L281.6 454.6L282.2 455.3L282.8 453.8L283.4 452.5L284 452L284.6 451L285.2 452.4L285.8 450.9L286.4 451.6L287 451L287.6 449.4L288.2 449L288.8 449.4L289.4 448.5L290 448.1L290.6 446.2L291.2 447.5L291.8 445.8L292.4 444.3L293 445L293.6 445.2L294.2 445.9L294.8 443.6L295.4 442.5L296 444.4L296.6 442.5L297.2 441.7L297.8 440.7L298.4 440.2L299 441.5L299.6 439.7L300.2 439.1L300.8 438.6L301.4 439.5L302 437.5L302.6 437.9L303.2 437.1L303.8 436.6L304.4 435.3L305 435.9L305.6 437.5L306.2 434.4L306.8 433.3L307.4 432.6L308 433.1L308.6 432.3L309.2 431.9L309.8 431.5L310.4 430L311 431.1L311.6 430.2L312.2 429.5L312.8 429.2L313.4 429.2L314 428.1L314.6 426.9L315.2 427.9L315.8 426.3L316.4 425.6L317 424.5L317.6 425.1L318.2 423.8L318.8 423.7L319.4 423.9L320 423.1L320.6 423.3L321.2 422.3L321.8 421.3L322.4 420.9L323 420.3L323.6 420.6L324.2 419.7L324.8 418.9L325.4 419.3L326 418.2L326.6 417.4L327.2 414.7L327.8 417L328.4 416.4L329 415.7L329.6 414.9L330.2 414.1L330.8 414.1L331.4 413.9L332 413.2L332.6 412.7L333.2 411.9L333.8 412L334.4 411.5L335 410.3L335.6 410.8L336.2 410.4L336.8 409.9L337.4 408.7L338 408.2L338.6 407L339.2 407.9L339.8 405.4L340.4 406.1L341 405.6L341.6 406L342.2 404.9L342.8 403.7L343.4 402.9L344 402.9L344.6 403L345.2 402.5L345.8 401.8L346.4 401L347 400.8L347.6 401.2L348.2 399.2L348.8 399.5L349.4 400.1L350 398.9L350.6 397.7L351.2 398L351.8 396.5L352.4 396.5L353 397.1L353.6 396.9L354.2 393.8L354.8 395L355.4 395.4L356 393.2L356.6 393.3L357.2 393.6L357.8 391.8L358.4 391.9L359 391.1L359.6 389.3L360.2 390.4L360.8 389.5L361.4 389.8L362 390.1L362.6 388.7L363.2 387.4L363.8 387.5L364.4 386.9L365 387L365.6 384.7L366.2 384.4L366.8 383.3L367.4 384.7L368 383.8L368.6 382.9L369.2 382.3L369.8 381.9L370.4 381.2L371 381.2L371.6 380.5L372.2 381.4L372.8 380.2L373.4 378.9L374 378.5L374.6 379.3L375.2 378.3L375.8 377.7L376.4 379.5L377 377.6L377.6 375.2L378.2 375L378.8 373.9L379.4 374.9L380 373.8L380.6 373.1L381.2 372.6L381.8 373.1L382.4 374.2L383 371.3L383.6 372.1L384.2 370L384.8 369.3L385.4 371.5L386 369L386.6 368.4L387.2 367.8L387.8 367.7L388.4 367.8L389 368.9L389.6 366.7L390.2 365.6L390.8 364.3L391.4 365.1L392 365.4L392.6 364.6L393.2 363.3L393.8 363.5L394.4 362.2L395 363.9L395.6 360.6L396.2 360.8L396.8 360.6L397.4 359.9L398 360.1L398.6 360.3L399.2 359.5L399.8 357.8L400.4 357.1L401 356.6L401.6 355.9L402.2 356.1L402.8 355.9L403.4 355.3L404 354.8L404.6 354.3L405.2 353.6L405.8 352.7L406.4 353.9L407 353L407.6 351.1L408.2 350.6L408.8 350.4L409.4 350.3L410 350.7L410.6 350.1L411.2 349.6L411.8 349.1L412.4 348.7L413 347.9L413.6 347.3L414.2 346.4L414.8 342.3L415.4 345.4L416 346.3L416.6 344.1L417.2 341.3L417.8 344.3L418.4 343.1L419 342.3L419.6 343.2L420.2 342.1L420.8 341.7L421.4 340.3L422 340.5L422.6 340L423.2 339.8L423.8 339.6L424.4 339.1L425 337.9L425.6 337.8L426.2 336.1L426.8 336.8L427.4 336.4L428 335.2L428.6 334.4L429.2 334.4L429.8 333.1L430.4 333.8L431 333.3L431.6 331.9L432.2 332.1L432.8 332.4L433.4 331.9L434 331.4L434.6 330.1L435.2 327.3L435.8 329L436.4 329.2L437 329.9L437.6 328.8L438.2 328.4L438.8 327.8L439.4 325.2L440 325.8L440.6 323.4L441.2 325.8L441.8 325.7L442.4 323.5L443 323.5L443.6 323.4L444.2 322.2L444.8 321.6L445.4 321.1L446 321.7L446.6 320L447.2 321L447.8 319.8L448.4 319.7L449 319.8L449.6 317.8L450.2 317.2L450.8 317.6L451.4 316.1L452 315.8L452.6 315.8L453.2 315.5L453.8 314L454.4 314.2L455 314.4L455.6 314.4L456.2 311.6L456.8 313.4L457.4 311.1L458 310.8L458.6 310.1L459.2 310.9L459.8 309.9L460.4 309.8L461 309.8L461.6 310.5L462.2 308.4L462.8 308.1L463.4 307.9L464 308.1L464.6 307.6L465.2 306.1L465.8 305.3L466.4 306.6L467 304.9L467.6 304.3L468.2 302.8L468.8 303.6L469.4 302.1L470 301.8L470.6 300.7L471.2 300.8L471.8 300.8L472.4 299.2L473 299.2L473.6 299.3L474.2 298L474.8 297.5L475.4 297.3L476 296.5L476.6 297.4L477.2 295.8L477.8 296.6L478.4 296.2L479 294.3L479.6 294.6L480.2 293.8L480.8 292.9L481.4 293L482 292.6L482.6 292.8L483.2 292.5L483.8 290.5L484.4 290.6L485 290.7L485.6 290.7L486.2 287.7L486.8 289.8L487.4 288.4L488 289.1L488.6 287.2L489.2 286.5L489.8 286.6L490.4 286.9L491 285.7L491.6 283.5L492.2 285.2L492.8 283.1L493.4 283.1L494 282.5L494.6 281.5L495.2 281.5L495.8 281.2L496.4 281L497 280.9L497.6 280.2L498.2 279L498.8 279.4L499.4 277.9L500 279.3L500.6 278.2L501.2 278.1L501.8 277.8L502.4 277.7L503 277.5L503.6 275.6L504.2 275.1L504.8 275.9L505.4 275.5L506 275L506.6 271.8L507.2 272.8L507.8 270.3L508.4 272.6L509 271.6L509.6 271.2L510.2 270.6L510.8 271.1L511.4 269.5L512 270L512.6 269.2L513.2 268.6L513.8 268.2L514.4 267.5L515 266.2L515.6 267L516.2 266.5L516.8 265.5L517.4 265.6L518 265.3L518.6 263.3L519.2 263.6L519.8 262.9L520.4 262.2L521 262.6L521.6 261.3L522.2 261.1L522.8 261.1L523.4 260.7L524 260.2L524.6 261.1L525.2 258.7L525.8 258.8L526.4 257.3L527 258L527.6 258L528.2 257.6L528.8 255.9L529.4 255.7L530 256.3L530.6 254.9L531.2 255.1L531.8 253.3L532.4 254.5L533 253.8L533.6 252.9L534.2 251.6L534.8 251.6L535.4 251.3L536 251L536.6 250.2L537.2 249.7L537.8 249.5L538.4 249.9L539 247.1L539.6 247L540.2 246.5L540.8 246.6L541.4 245.4L542 246.6L542.6 245.8L543.2 245.1L543.8 244.3L544.4 244.4L545 244L545.6 243.6L546.2 242.4L546.8 242.9L547.4 241L548 242.4L548.6 239L549.2 240.2L549.8 239.3L550.4 240.3L551 238.2L551.6 240.1L552.2 237.3L552.8 238L553.4 237.8L554 237L554.6 236.8L555.2 237.6L555.8 236.2L556.4 233.6L557 235.5L557.6 234.4L558.2 232.6L558.8 233.8L559.4 232L560 232.5L560.6 232.1L561.2 231L561.8 231.5L562.4 229.9L563 230.2L563.6 229.3L564.2 229.1L564.8 230.1L565.4 228.4L566 227.1L566.6 227.3L567.2 226.4L567.8 226.5L568.4 226.1L569 225.6L569.6 225.2L570.2 224.3L570.8 224.5L571.4 224.5L572 222.8L572.6 222.8L573.2 222.4L573.8 222.8L574.4 222.2L575 220.5L575.6 220.6L576.2 219L576.8 218.9L577.4 219.2L578 219.2L578.6 218.9L579.2 217.6L579.8 216.4L580.4 217.2L581 216.3L581.6 216.3L582.2 215.6L582.8 215.6L583.4 215.1L584 214.8L584.6 213.4L585.2 214L585.8 212.5L586.4 212.4L587 213.2L587.6 211.7L588.2 210.2L588.8 211.6L589.4 210.8L590 210.4L590.6 209.3L591.2 209L591.8 208.1L592.4 207.3L593 208.4L593.6 206.7L594.2 206.1L594.8 205.7L595.4 206.9L596 205.7L596.6 204.4L597.2 204.2L597.8 204.1L598.4 203.9L599 201.7L599.6 203L600.2 201.8L600.8 201L601.4 200.8L602 201.2L602.6 201.4L603.2 199.8L603.8 199.6L604.4 198.2L605 198.7L605.6 198.5L606.2 196.4L606.8 196.7L607.4 197.1L608 194.9L608.6 195.4L609.2 195.6L609.8 193.6L610.4 194.1L611 193.9L611.6 194.1L612.2 192.1L612.8 193.3L613.4 192.3L614 192.5L614.6 192L615.2 191L615.8 190.7L616.4 188.7L617 188.5L617.6 188.3L618.2 188.3L618.8 188.7L619.4 186.4L620 187L620.6 185.8L621.2 185.2L621.8 186.9L622.4 185.5L623 186.1L623.6 185.4L624.2 183.4L624.8 182.3L625.4 184.6L626 182.5L626.6 181.5L627.2 182.3L627.8 181.5L628.4 180.5L629 180.3L629.6 180.2L630.2 179.7L630.8 179.7L631.4 178.5L632 178.1L632.6 178.3L633.2 177.6L633.8 177.7L634.4 176.4L635 176L635.6 174.8L636.2 176.2L636.8 173.8L637.4 174.5L638 173.2L638.6 173.7L639.2 173.5L639.8 171.4L640.4 172L641 170.4L641.6 172.2L642.2 170.5L642.8 169.2L643.4 169.4L644 170.4L644.6 170.1L645.2 169.5L645.8 167.6L646.4 167.6L647 168.4L647.6 166.3L648.2 164.5L648.8 165.3L649.4 164.7L650 164.4L650.6 165.1L651.2 164.5L651.8 164.2L652.4 164.1L653 164L653.6 162.5L654.2 161.8L654.8 160.9L655.4 161.9L656 160.4L656.6 159.2L657.2 159.7L657.8 161.9L658.4 159.6L659 159.2L659.6 157.6L660.2 157.1L660.8 157L661.4 155.9L662 156.3L662.6 156.2L663.2 155.5L663.8 153.9L664.4 153.7L665 155L665.6 153L666.2 153.8L666.8 153.3L667.4 152.2L668 151.3L668.6 151.7L669.2 150.5L669.8 150.5L670.4 150.3L671 149.3L671.6 149.2L672.2 148.7L672.8 147.6L673.4 147.9L674 147.1L674.6 145.9L675.2 146.5L675.8 146.1L676.4 145.4L677 143.9L677.6 145.5L678.2 145L678.8 144.5L679.4 143.9L680 142.3L680.6 142.9L681.2 141.7L681.8 143.4L682.4 141.1L683 141.5L683.6 137.5L684.2 139.3L684.8 139.4L685.4 139.8L686 139.2L686.6 138.6L687.2 136.7L687.8 138.4L688.4 136.5L689 137.8L689.6 137.6L690.2 136.4L690.8 136.1L691.4 134.1L692 136.3L692.6 134.3L693.2 134.4L693.8 132.6L694.4 132.8L695 131.6L695.6 131.8L696.2 131.5L696.8 131.3L697.4 131.6L698 130.6L698.6 130L699.2 129.4L699.8 130.4L700.4 128.1L701 128.9L701.6 126.3L702.2 126.6L702.8 127.1L703.4 126.3L704 128.1L704.6 127.3L705.2 124L705.8 123.9L706.4 124.1L707 125L707.6 124.2L708.2 123.2L708.8 121.5L709.4 121.5L710 119.8L710.6 120.2L711.2 121.1L711.8 121L712.4 119.1L713 119.6L713.6 120.3L714.2 120.6L714.8 118.1L715.4 118.3L716 117.8L716.6 117.1L717.2 116.2L717.8 115.9L718.4 115.8L719 114.9L719.6 115.8L720.2 115.1L720.8 114.8L721.4 115L722 114.3L722.6 113.8L723.2 112.6L723.8 111.8L724.4 113.1L725 110.6L725.6 110.2L726.2 109.6L726.8 109.9L727.4 109.7L728 109.7L728.6 108.4L729.2 106.9L729.8 107.9L730.4 107.9L731 106.9L731.6 106.3L732.2 106.4L732.8 106.6L733.4 105.1L734 103.7L734.6 103.9L735.2 103.8L735.8 102.2L736.4 103.6L737 102.1L737.6 102.5L738.2 101.9L738.8 101.1L739.4 102.1L740 100.1L740.6 99.6L741.2 99.9L741.8 99.8L742.4 98.8L743 97.7L743.6 100.6L744.2 98L744.8 98.6L745.4 96.6L746 96.5L746.6 95.5L747.2 94.4L747.8 95.1L748.4 95.2L749 93.5L749.6 93.3L750.2 92.6L750.8 93.9L751.4 92.1L752 92.5L752.6 91.1L753.2 91.4L753.8 90.5L754.4 88.8L755 90.1L755.6 90L756.2 87.8L756.8 88.7L757.4 88.1L758 87.2L758.6 87.4L759.2 85.8L759.8 86.9L760.4 85.6L761 85L761.6 85.4L762.2 86.1L762.8 84.7L763.4 83.9L764 83.2L764.6 83.5L765.2 82.9L765.8 83L766.4 81.1L767 82.5L767.6 81.1L768.2 81.4L768.8 80L769.4 79.2L770 79.3L770.6 78.6L771.2 78.6L771.8 78.9L772.4 78.8L773 77.8L773.6 76.8L774.2 76.5L774.8 76.8L775.4 76.8L776 75.3L776.6 75.1L777.2 74.2L777.8 74.5L778.4 74.6L779 71.5L779.6 73.3L780.2 72.3L780.8 70.6L781.4 72.1L782 71.4L782.6 71.3" stroke="#000" stroke-width="4.2"/>
</g>
<g stroke="#000" stroke-width="2" fill="none">
<rect x="111.7" y="12.9" width="695.4" height="545.5"/>
<path d="M111.7 558.4v-11"/>
<path d="M227.6 558.4v-6"/>
<path d="M343.5 558.4v-11"/>
<path d="M459.4 558.4v-6"/>
<path d="M575.3 558.4v-11"/>
<path d="M691.2 558.4v-6"/>
<path d="M807.1 558.4v-11"/>
<path d="M111.7 558.4h11"/>
<path d="M807.1 558.4h-11"/>
<path d="M111.7 503.8h6"/>
<path d="M807.1 503.8h-6"/>
<path d="M111.7 449.3h11"/>
<path d="M807.1 449.3h-11"/>
<path d="M111.7 394.8h6"/>
<path d="M807.1 394.8h-6"/>
<path d="M111.7 340.2h11"/>
<path d="M807.1 340.2h-11"/>
<path d="M111.7 285.6h6"/>
<path d="M807.1 285.6h-6"/>
<path d="M111.7 231.1h11"/>
<path d="M807.1 231.1h-11"/>
<path d="M111.7 176.5h6"/>
<path d="M807.1 176.5h-6"/>
<path d="M111.7 122h11"/>
<path d="M807.1 122h-11"/>
<path d="M111.7 67.4h6"/>
<path d="M807.1 67.4h-6"/>
<path d="M111.7 12.9h11"/>
<path d="M807.1 12.9h-11"/>
</g>
<g font-family="'Liberation Sans', sans-serif" stroke-linejoin="round">
<text transform="translate(87.01 566.26)" font-size="28.80" fill="#000" stroke="#000" stroke-width="0.25">0</text>
<text transform="translate(71.00 457.16)" font-size="28.80" fill="#000" stroke="#000" stroke-width="0.25">10</text>
<text transform="translate(71.00 348.06)" font-size="28.80" fill="#000" stroke="#000" stroke-width="0.25">20</text>
<text transform="translate(71.00 238.96)" font-size="28.80" fill="#000" stroke="#000" stroke-width="0.25">30</text>
<text transform="translate(71.00 129.86)" font-size="28.80" fill="#000" stroke="#000" stroke-width="0.25">40</text>
<text transform="translate(71.00 20.76)" font-size="28.80" fill="#000" stroke="#000" stroke-width="0.25">50</text>
<text transform="translate(104.89 591.11)" font-size="28.80" fill="#000" stroke="#000" stroke-width="0.25">0</text>
<text transform="translate(320.15 591.11)" font-size="28.80" fill="#000" stroke="#000" stroke-width="0.25">100</text>
<text transform="translate(552.32 591.11)" font-size="28.80" fill="#000" stroke="#000" stroke-width="0.25">200</text>
<text transform="translate(784.30 591.11)" font-size="28.80" fill="#000" stroke="#000" stroke-width="0.25">300</text>
<text transform="translate(391.70 632.70) scale(1.036 1)" font-size="56.98" fill="#000" stroke="#000" stroke-width="0.50">T</text>
<text transform="translate(443.29 629.29) scale(0.863 1)" font-size="50.75" fill="#000" stroke="#000" stroke-width="1.30">(</text>
<text transform="translate(460.11 632.70) scale(0.983 1)" font-size="56.98" fill="#000" stroke="#000" stroke-width="0.50">K</text>
<text transform="translate(500.24 629.29) scale(0.855 1)" font-size="50.75" fill="#000" stroke="#000" stroke-width="1.30">)</text>
<text transform="translate(39.19 404.73) rotate(-90) scale(0.955 1)" font-size="70.01" fill="#000" stroke="#000" stroke-width="0.80">ρ</text>
<text transform="translate(34.82 340.03) rotate(-90) scale(0.832 1)" font-size="42.17" fill="#000" stroke="#000" stroke-width="1.20">(</text>
<text transform="translate(38.94 328.19) rotate(-90) scale(1.189 1)" font-size="40.69" fill="#000" stroke="#000" stroke-width="0.40">μ</text>
<text transform="translate(37.85 303.97) rotate(-90) scale(1.087 1)" font-size="39.97" fill="#000" stroke="#000" stroke-width="0.40">Ω</text>
<text transform="translate(40.66 271.62) rotate(-90) scale(0.832 1)" font-size="56.41" fill="#000" stroke="#000" stroke-width="0.20">-</text>
<text transform="translate(38.27 255.66) rotate(-90) scale(0.890 1)" font-size="48.36" fill="#000" stroke="#000" stroke-width="0.40">c</text>
<text transform="translate(37.85 233.69) rotate(-90) scale(1.094 1)" font-size="46.28" fill="#000" stroke="#000" stroke-width="0.40">m</text>
<text transform="translate(34.82 192.54) rotate(-90) scale(0.770 1)" font-size="42.17" fill="#000" stroke="#000" stroke-width="1.20">)</text>
<text transform="translate(192.31 456.34) scale(0.946 1)" font-size="26.27" fill="#0000ff" stroke="#0000ff" stroke-width="0.30">16 T</text>
<text transform="translate(149.12 517.14) scale(0.959 1)" font-size="26.27" fill="#ff0000" stroke="#ff0000" stroke-width="0.30">8 T</text>
<text transform="translate(244.73 514.14) scale(0.951 1)" font-size="26.27" fill="#000" stroke="#000" stroke-width="0.30">0 T</text>
<text transform="translate(386.55 48.75) scale(1.001 1)" font-size="17.91" fill="#000" stroke="#000" stroke-width="0.20">2 K</text>
<text transform="translate(400.33 91.65) scale(0.991 1)" font-size="18.17" fill="#ff0000" stroke="#ff0000" stroke-width="0.20">7 K</text>
<text transform="translate(405.22 183.75) scale(0.976 1)" font-size="17.91" fill="#0000ff" stroke="#0000ff" stroke-width="0.20">12 K</text>
<text transform="translate(414.06 244.25) scale(0.983 1)" font-size="18.05" fill="#808000" stroke="#808000" stroke-width="0.20">21 K</text>
<text transform="translate(215.74 288.44)" font-size="19.00" fill="#000" stroke="#000" stroke-width="0.20">5</text>
<text transform="translate(321.38 288.54)" font-size="19.00" fill="#000" stroke="#000" stroke-width="0.20">10</text>
<text transform="translate(430.91 288.44)" font-size="19.00" fill="#000" stroke="#000" stroke-width="0.20">15</text>
<text transform="translate(468.16 274.04)" font-size="19.00" fill="#000" stroke="#000" stroke-width="0.20">0</text>
<text transform="translate(467.95 208.64)" font-size="19.00" fill="#000" stroke="#000" stroke-width="0.20">20</text>
<text transform="translate(468.46 143.24)" font-size="19.00" fill="#000" stroke="#000" stroke-width="0.20">40</text>
<text transform="translate(467.93 77.84)" font-size="19.00" fill="#000" stroke="#000" stroke-width="0.20">60</text>
<text transform="translate(234.02 313.05) scale(0.896 1)" font-size="42.59" fill="#000" stroke="#000" stroke-width="0.60">B</text>
<text transform="translate(272.78 310.20) scale(0.786 1)" font-size="38.41" fill="#000" stroke="#000" stroke-width="1.00">(</text>
<text transform="translate(283.81 313.30) scale(1.040 1)" font-size="43.31" fill="#000" stroke="#000" stroke-width="0.10">T</text>
<text transform="translate(313.97 310.20) scale(0.786 1)" font-size="38.41" fill="#000" stroke="#000" stroke-width="1.00">)</text>
<text transform="translate(493.95 106.18) rotate(90) scale(0.931 1)" font-size="42.88" fill="#000" stroke="#000" stroke-width="0.40">M</text>
<text transform="translate(493.95 140.78) rotate(90) scale(0.873 1)" font-size="42.88" fill="#000" stroke="#000" stroke-width="0.40">R</text>
</g>
</svg>
</body></html>
